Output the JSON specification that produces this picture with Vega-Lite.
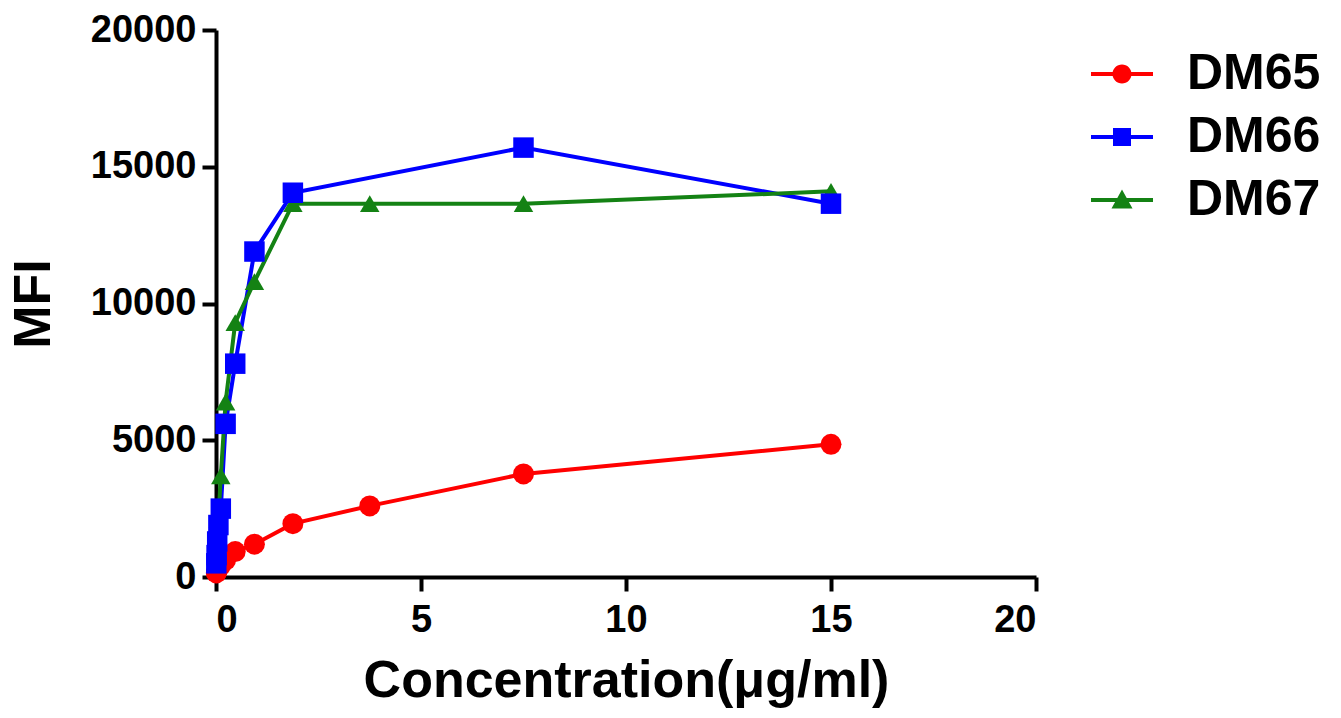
{
  "$schema": "https://vega.github.io/schema/vega-lite/v6.json",
  "width": 820,
  "height": 547,
  "autosize": {"type": "none"},
  "padding": {"left": 216, "top": 30, "right": 305, "bottom": 141},
  "background": "white",
  "config": {
    "view": {"stroke": null},
    "font": "Liberation Sans",
    "axis": {
      "domainColor": "black",
      "domainWidth": 4,
      "tickColor": "black",
      "tickWidth": 4,
      "tickSize": 14,
      "grid": false,
      "labelFont": "Liberation Sans",
      "labelFontWeight": "bold",
      "labelFontSize": 38,
      "labelColor": "black",
      "titleFont": "Liberation Sans",
      "titleFontWeight": "bold",
      "titleFontSize": 52,
      "titleColor": "black"
    }
  },
  "data": {
    "values": [
      {"series": "DM65", "conc": 15, "mfi": 4850},
      {"series": "DM65", "conc": 7.5, "mfi": 3770},
      {"series": "DM65", "conc": 3.75, "mfi": 2600},
      {"series": "DM65", "conc": 1.875, "mfi": 1950},
      {"series": "DM65", "conc": 0.9375, "mfi": 1200},
      {"series": "DM65", "conc": 0.46875, "mfi": 930},
      {"series": "DM65", "conc": 0.234375, "mfi": 620},
      {"series": "DM65", "conc": 0.1171875, "mfi": 430},
      {"series": "DM65", "conc": 0.0586, "mfi": 320},
      {"series": "DM65", "conc": 0.0293, "mfi": 250},
      {"series": "DM65", "conc": 0.0146, "mfi": 200},
      {"series": "DM65", "conc": 0.0073, "mfi": 150},
      {"series": "DM66", "conc": 15, "mfi": 13650},
      {"series": "DM66", "conc": 7.5, "mfi": 15700},
      {"series": "DM66", "conc": 1.875, "mfi": 14050},
      {"series": "DM66", "conc": 0.9375, "mfi": 11900},
      {"series": "DM66", "conc": 0.46875, "mfi": 7800},
      {"series": "DM66", "conc": 0.234375, "mfi": 5600},
      {"series": "DM66", "conc": 0.1171875, "mfi": 2500},
      {"series": "DM66", "conc": 0.0586, "mfi": 1900},
      {"series": "DM66", "conc": 0.0293, "mfi": 1300},
      {"series": "DM66", "conc": 0.0146, "mfi": 800},
      {"series": "DM66", "conc": 0.0073, "mfi": 500},
      {"series": "DM67", "conc": 15, "mfi": 14100},
      {"series": "DM67", "conc": 7.5, "mfi": 13650},
      {"series": "DM67", "conc": 3.75, "mfi": 13650},
      {"series": "DM67", "conc": 1.875, "mfi": 13650},
      {"series": "DM67", "conc": 0.9375, "mfi": 10800},
      {"series": "DM67", "conc": 0.46875, "mfi": 9300},
      {"series": "DM67", "conc": 0.234375, "mfi": 6400},
      {"series": "DM67", "conc": 0.1171875, "mfi": 3700},
      {"series": "DM67", "conc": 0.0586, "mfi": 2100},
      {"series": "DM67", "conc": 0.0293, "mfi": 1300},
      {"series": "DM67", "conc": 0.0146, "mfi": 800},
      {"series": "DM67", "conc": 0.0073, "mfi": 500}
    ]
  },
  "encoding": {
    "x": {
      "field": "conc",
      "type": "quantitative",
      "scale": {"domain": [0, 20], "nice": false, "zero": false},
      "axis": {"values": [0, 5, 10, 15, 20], "title": "Concentration(μg/ml)", "labelPadding": 10, "titlePadding": 16}
    },
    "y": {
      "field": "mfi",
      "type": "quantitative",
      "scale": {"domain": [0, 20000], "nice": false},
      "axis": {"values": [0, 5000, 10000, 15000, 20000], "format": "d", "title": "MFI", "labelPadding": 6, "titlePadding": 30}
    },
    "color": {
      "field": "series",
      "type": "nominal",
      "scale": {"domain": ["DM65", "DM66", "DM67"], "range": ["#FF0000", "#0000FF", "#148214"]},
      "legend": {
        "orient": "none",
        "legendX": 881,
        "legendY": 19,
        "title": null,
        "labelFont": "Liberation Sans",
        "labelFontWeight": "bold",
        "labelFontSize": 50,
        "labelColor": "black",
        "labelOffset": 40,
        "symbolSize": 400,
        "symbolStrokeWidth": 0,
        "symbolOpacity": 1,
        "rowPadding": 13,
        "encode": {
          "symbols": {
            "update": {
              "shape": {"signal": "datum.value === 'DM65' ? 'M-3.1,-0.2H3.1V0.2H-3.1Z M0.95,0A0.95,0.95 0 1,1 -0.95,0A0.95,0.95 0 1,1 0.95,0Z' : datum.value === 'DM66' ? 'M-3.1,-0.2H3.1V0.2H-3.1Z M-0.9,-0.9H0.9V0.9H-0.9Z' : 'M-3.1,-0.2H3.1V0.2H-3.1Z M0,-1.05L1.05,0.85H-1.05Z'"},
              "fill": {"scale": "color", "field": "value"},
              "fillOpacity": {"value": 1},
              "opacity": {"value": 1},
              "strokeWidth": {"value": 0}
            }
          }
        }
      }
    }
  },
  "layer": [
    {
      "mark": {"type": "line", "strokeWidth": 4},
      "encoding": {
        "order": {"field": "conc", "type": "quantitative"}
      }
    },
    {
      "transform": [{"filter": "datum.series === 'DM65'"}],
      "mark": {"type": "point", "shape": "circle", "filled": true, "opacity": 1, "size": 440}
    },
    {
      "transform": [{"filter": "datum.series === 'DM67'"}],
      "mark": {"type": "point", "shape": "triangle-up", "filled": true, "opacity": 1, "size": 380}
    },
    {
      "transform": [{"filter": "datum.series === 'DM66'"}],
      "mark": {"type": "point", "shape": "square", "filled": true, "opacity": 1, "size": 420}
    }
  ]
}
